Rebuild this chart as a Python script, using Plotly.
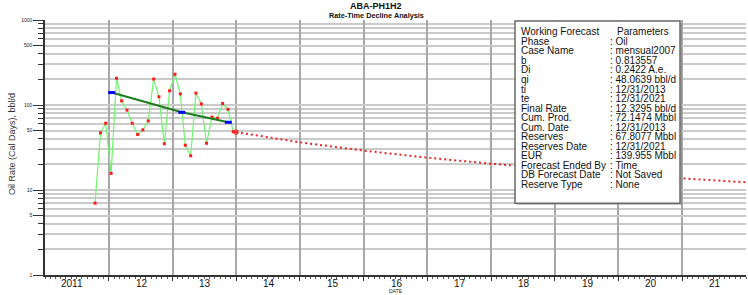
import plotly.graph_objects as go

# ---------------- data ----------------
prod_dates = [
    "2011-10-15", "2011-11-15", "2011-12-15",
    "2012-01-15", "2012-02-15", "2012-03-15", "2012-04-15", "2012-05-15", "2012-06-15",
    "2012-07-15", "2012-08-15", "2012-09-15", "2012-10-15", "2012-11-15", "2012-12-15",
    "2013-01-15", "2013-02-15", "2013-03-15", "2013-04-15", "2013-05-15", "2013-06-15",
    "2013-07-15", "2013-08-15", "2013-09-15", "2013-10-15", "2013-11-15", "2013-12-15",
]
oil_rate = [
    7.0, 47, 61,
    15.7, 206, 112, 87, 61, 45,
    51, 65, 202, 125, 35, 147,
    230, 135, 33.6, 25.3, 138, 103,
    35.5, 72, 70, 104, 89, 48.5,
]

fit_dates = ["2012-01-18", "2013-02-23", "2013-11-17"]
fit_rate = [140, 82, 62.6]

fc_dates = ["2013-12-31", "2014-12-31", "2015-12-31", "2016-12-31", "2017-12-31",
            "2018-12-31", "2019-12-31", "2020-12-31", "2021-12-31"]
fc_rate = [48.06, 36.4, 29.1, 24.0, 20.4, 17.6, 15.4, 13.7, 12.33]

year_bounds = ["2012-01-01", "2013-01-01", "2014-01-01", "2015-01-01", "2016-01-01",
               "2017-01-01", "2018-01-01", "2019-01-01", "2020-01-01", "2021-01-01"]
year_mid = ["2011-07-02", "2012-07-02", "2013-07-02", "2014-07-02", "2015-07-02", "2016-07-02",
            "2017-07-02", "2018-07-02", "2019-07-02", "2020-07-02", "2021-07-02"]
year_labels = ["2011", "12", "13", "14", "15", "16", "17", "18", "19", "20", "21"]

y_major = [1, 5, 10, 50, 100, 500, 1000]
y_major_text = ["1", "5", "10", "50", "100", "500", "1000"]
y_minor = [2, 3, 4, 6, 7, 8, 9, 20, 30, 40, 60, 70, 80, 90, 200, 300, 400, 600, 700, 800, 900]

param_names = ["Phase", "Case Name", "b", "Di", "qi", "ti", "te", "Final Rate",
               "Cum. Prod.", "Cum. Date", "Reserves", "Reserves Date", "EUR",
               "Forecast Ended By", "DB Forecast Date", "Reserve Type"]
param_values = ["Oil", "mensual2007", "0.813557", "0.2422 A.e.", "48.0639 bbl/d",
                "12/31/2013", "12/31/2021", "12.3295 bbl/d", "72.1474 Mbbl",
                "12/31/2013", "67.8077 Mbbl", "12/31/2021", "139.955 Mbbl",
                "Time", "Not Saved", "None"]

# ---------------- figure ----------------
FONT = "Liberation Sans, Arial, sans-serif"
W, H = 748, 295
ML, MR, MT, MB = 45, 2, 20, 20
PW, PH = W - ML - MR, H - MT - MB


def px(x):
    return (x - ML) / PW


def py(y):
    return (H - MB - y) / PH


fig = go.Figure()

fig.add_trace(go.Scatter(
    x=fc_dates, y=fc_rate, mode="lines+markers",
    line=dict(color="#e8262a", width=2, dash="2px,3px"),
    marker=dict(symbol="square", color="#ff1a1a",
                size=[4] + [0] * (len(fc_rate) - 1)),
    hoverinfo="skip", showlegend=False))

fig.add_trace(go.Scatter(
    x=prod_dates, y=oil_rate, mode="lines+markers",
    line=dict(color="#70f570", width=1.2),
    marker=dict(symbol="square", color="#ff1a1a", size=3),
    showlegend=False))

fig.add_trace(go.Scatter(
    x=fit_dates, y=fit_rate, mode="lines+markers",
    line=dict(color="#1d7a1d", width=2),
    marker=dict(symbol="line-ew", size=5, line=dict(color="#0000ff", width=3)),
    showlegend=False))

fig.update_xaxes(
    type="date", range=["2011-01-01", "2022-01-01"],
    tickmode="array", tickvals=year_bounds, showticklabels=False,
    ticks="outside", ticklen=4, tickwidth=1, tickcolor="#333",
    showgrid=True, gridcolor="#a8a8a8", gridwidth=1.5,
    showline=True, linecolor="#333", linewidth=1.5,
    minor=dict(ticks="outside", ticklen=2, tickwidth=1, tickcolor="#555",
               dtick="M1", tick0="2011-01-01", showgrid=False),
    zeroline=False,
)

fig.update_yaxes(
    type="log", range=[0, 3],
    tickmode="array", tickvals=y_major, ticktext=y_major_text,
    tickfont=dict(size=5, color="#222", family=FONT),
    ticks="outside", ticklen=10, tickwidth=1, tickcolor="#333",
    showgrid=True, gridcolor="#cacaca", gridwidth=2,
    showline=True, linecolor="#333", linewidth=1.5,
    minor=dict(tickmode="array", tickvals=y_minor, ticks="outside", ticklen=5,
               tickwidth=1, tickcolor="#333", showgrid=True,
               gridcolor="#cacaca", gridwidth=2),
    zeroline=False,
)

annotations = []
# x tick labels
for i, (d, t) in enumerate(zip(year_mid, year_labels)):
    annotations.append(dict(
        x=d, y=py(283), xref="x", yref="paper", text=t, showarrow=False,
        xanchor="center", yanchor="middle", xshift=-5 if i == 0 else 1,
        font=dict(size=10, color="#111", family=FONT)))
# axis titles
annotations.append(dict(
    x=px(395.5), y=py(291), xref="paper", yref="paper", text="DATE",
    showarrow=False, xanchor="center", yanchor="middle",
    font=dict(size=5, color="#222", family=FONT)))
annotations.append(dict(
    x=px(12), y=py(144), xref="paper", yref="paper",
    text="Oil Rate (Cal Days), bbl/d", textangle=-90, showarrow=False,
    xanchor="center", yanchor="middle",
    font=dict(size=9, color="#333", family=FONT)))
# titles
annotations.append(dict(
    x=px(375.5), y=py(6), xref="paper", yref="paper", text="<b>ABA-PH1H2</b>",
    showarrow=False, xanchor="center", yanchor="middle",
    font=dict(size=9, color="#111", family=FONT)))
annotations.append(dict(
    x=px(376), y=py(15.5), xref="paper", yref="paper",
    text="<b>Rate-Time Decline Analysis</b>",
    showarrow=False, xanchor="center", yanchor="middle",
    font=dict(size=7.3, color="#111", family=FONT)))

# parameter box
row0, dy = 31.7, 9.55
annotations.append(dict(
    x=px(519.5), y=py(row0), xref="paper", yref="paper", text="Working Forecast",
    showarrow=False, xanchor="left", yanchor="middle",
    font=dict(size=10, color="#111", family=FONT)))
annotations.append(dict(
    x=px(615.5), y=py(row0), xref="paper", yref="paper", text="Parameters",
    showarrow=False, xanchor="left", yanchor="middle",
    font=dict(size=10, color="#111", family=FONT)))
for i, (n, v) in enumerate(zip(param_names, param_values)):
    yy = row0 + (i + 1) * dy
    annotations.append(dict(
        x=px(519.5), y=py(yy), xref="paper", yref="paper", text=n,
        showarrow=False, xanchor="left", yanchor="middle",
        font=dict(size=10, color="#111", family=FONT)))
    annotations.append(dict(
        x=px(608.5), y=py(yy), xref="paper", yref="paper", text=": " + v,
        showarrow=False, xanchor="left", yanchor="middle",
        font=dict(size=10, color="#111", family=FONT)))

for a in annotations:
    a.setdefault("borderpad", 0)
    a.setdefault("xshift", 0)

shapes = [
    dict(type="rect", xref="paper", yref="paper",
         x0=px(517), x1=px(682), y0=py(205), y1=py(23),
         line=dict(width=0), fillcolor="rgba(120,120,120,0.45)", layer="above"),
    dict(type="rect", xref="paper", yref="paper",
         x0=px(515), x1=px(680), y0=py(203.3), y1=py(21),
         line=dict(color="#6a6a6a", width=1.5), fillcolor="white", layer="above"),
]

fig.update_layout(
    width=W, height=H,
    margin=dict(l=ML, r=MR, t=MT, b=MB),
    paper_bgcolor="white", plot_bgcolor="white",
    font=dict(family=FONT, color="#111"),
    showlegend=False,
    annotations=annotations,
    shapes=shapes,
)

fig.write_html(
    "out.html",
    config={"displayModeBar": False},
    post_script="document.body.style.margin='0';document.body.style.padding='0';",
)
